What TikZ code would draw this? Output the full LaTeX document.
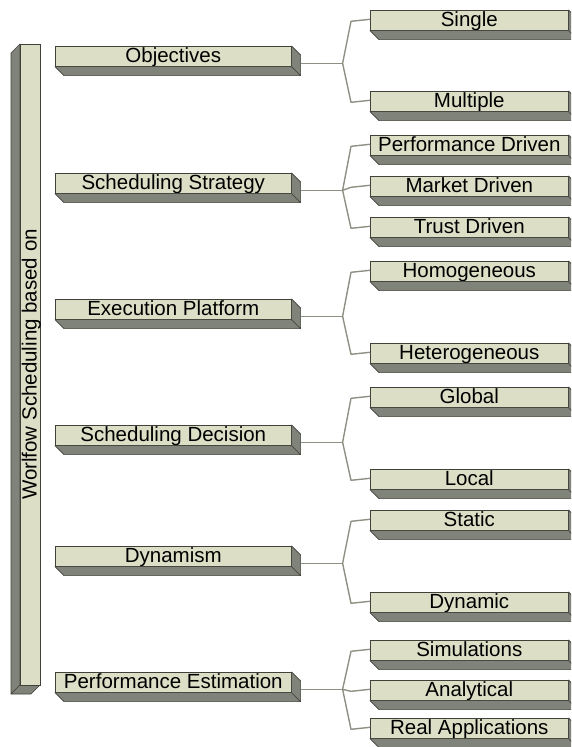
\documentclass[tikz,border=0pt]{standalone}
\usepackage{fontspec}
\setmainfont{Liberation Sans}
\usetikzlibrary{calc}

\definecolor{slabface}{HTML}{DCDFC6}
\definecolor{slabdark}{HTML}{80837A}
\definecolor{slabedge}{HTML}{404139}
\definecolor{linkgray}{HTML}{8E9083}

\tikzset{
  slab/.style={draw=slabedge, fill=slabface, line width=0.6pt, inner sep=0pt,
    anchor=north west, minimum height=20pt, text height=16.5pt, text depth=3.5pt,
    font=\fontsize{20.5}{22}\selectfont},
  catbox/.style={slab, minimum width=236pt},
  leafbox/.style={slab, minimum width=198pt},
  slabside/.style={draw=slabedge, fill=slabdark, line width=0.6pt, line join=round},
  link/.style={draw=linkgray, line width=1.4pt, line join=round},
}

% depth faces of a horizontal slab (extruded down and to the right)
\newcommand{\slabdepth}[1]{%
  \filldraw[slabside] (#1.south west) -- (#1.south east)
    -- ([shift={(9,9)}]#1.south east) -- ([shift={(9,9)}]#1.south west) -- cycle;
  \filldraw[slabside] (#1.north east) -- ([shift={(9,9)}]#1.north east)
    -- ([shift={(9,9)}]#1.south east) -- (#1.south east) -- cycle;}

% trunk from a category slab to its junction point
\newcommand{\trunk}[2]{%
  \draw[link] ([shift={(9,7)}]#1.east) -- ++(42,0) coordinate (#2);}

% branch from a junction to a leaf slab
\newcommand{\branch}[2]{%
  \draw[link] (#1) -- ([shift={(-19,1)}]#2.west) -- ([yshift=1]#2.west);}

\begin{document}
\begin{tikzpicture}[x=1pt,y=-1pt]
\useasboundingbox (0,0) rectangle (571,747);
\clip (0,0) rectangle (571,747);

% vertical root slab (extruded down and to the left)
\coordinate (rtl) at (20,44);
\coordinate (rtr) at (40,44);
\coordinate (rbl) at (20,685);
\coordinate (rbr) at (40,685);
\filldraw[slabside] (rtl) -- ++(-9,9) -- ($(rbl)+(-9,9)$) -- (rbl) -- cycle;
\filldraw[slabside] (rbl) -- ($(rbl)+(-9,9)$) -- ($(rbr)+(-9,9)$) -- (rbr) -- cycle;
\node[draw=slabedge, fill=slabface, line width=0.6pt, inner sep=0pt,
  minimum width=641pt, minimum height=20pt, text height=16.5pt, text depth=3.5pt,
  font=\fontsize{20.5}{22}\selectfont, rotate=90]
  (root) at (30,364.5) {Worlfow Scheduling based on};

% category slabs
\node[catbox] (obj)   at (55,46)  {Objectives};
\node[catbox] (strat) at (55,173) {Scheduling Strategy};
\node[catbox] (exec)  at (55,299) {Execution Platform};
\node[catbox] (dec)   at (55,425) {Scheduling Decision};
\node[catbox] (dyn)   at (55,546) {Dynamism};
\node[catbox] (perf)  at (55,672) {Performance Estimation};
\foreach \n in {obj,strat,exec,dec,dyn,perf} {\slabdepth{\n}}

% leaf slabs
\node[leafbox] (single)  at (370,10)  {Single};
\node[leafbox] (multi)   at (370,91)  {Multiple};
\node[leafbox] (perfdr)  at (370,135) {Performance Driven};
\node[leafbox] (market)  at (370,176) {Market Driven};
\node[leafbox] (trust)   at (370,217) {Trust Driven};
\node[leafbox] (homo)    at (370,261) {Homogeneous};
\node[leafbox] (hetero)  at (370,343) {Heterogeneous};
\node[leafbox] (global)  at (370,387) {Global};
\node[leafbox] (local)   at (370,469) {Local};
\node[leafbox] (static)  at (370,510) {Static};
\node[leafbox] (dynamic) at (370,592) {Dynamic};
\node[leafbox] (sim)     at (370,640) {Simulations};
\node[leafbox] (ana)     at (370,680) {Analytical};
\node[leafbox] (real)    at (370,718) {Real Applications};
\foreach \n in {single,multi,perfdr,market,trust,homo,hetero,global,local,static,dynamic,sim,ana,real} {\slabdepth{\n}}

% connectors
\trunk{obj}{j1}
\branch{j1}{single}
\branch{j1}{multi}

\trunk{strat}{j2}
\branch{j2}{perfdr}
\branch{j2}{market}
\branch{j2}{trust}

\trunk{exec}{j3}
\branch{j3}{homo}
\branch{j3}{hetero}

\trunk{dec}{j4}
\branch{j4}{global}
\branch{j4}{local}

\trunk{dyn}{j5}
\branch{j5}{static}
\branch{j5}{dynamic}

\trunk{perf}{j6}
\branch{j6}{sim}
\branch{j6}{ana}
\branch{j6}{real}
\end{tikzpicture}
\end{document}
